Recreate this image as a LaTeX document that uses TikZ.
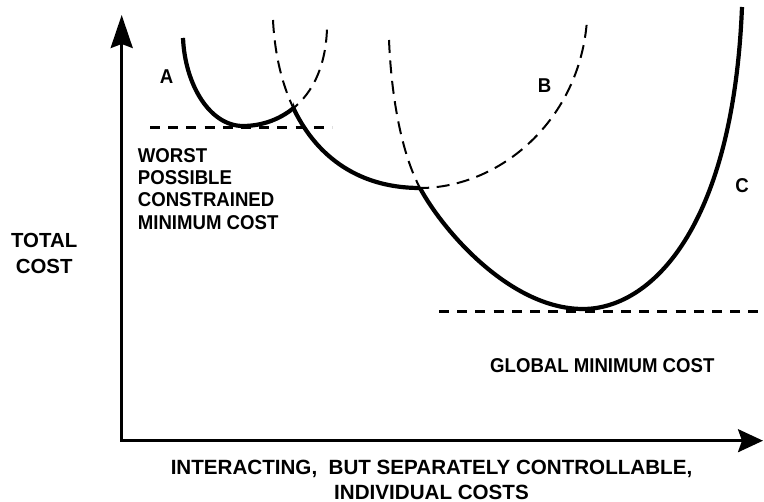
\documentclass[tikz,border=0pt]{standalone}
\usepackage{fontspec}
\setmainfont{Liberation Sans}
\newfontfamily\lblfont[FakeStretch=0.93]{Liberation Sans}
\usetikzlibrary{arrows.meta}
\begin{document}
\begin{tikzpicture}[x=1pt,y=-1pt,
  axisline/.style={line width=2.8pt},
  costcurve/.style={line width=4.2pt},
  altcurve/.style={line width=2pt, dash pattern=on 13pt off 7.5pt},
  levelline/.style={line width=3pt, dash pattern=on 10pt off 8.2pt},
  lbl/.style={inner sep=0pt, font=\lblfont\bfseries\fontsize{20}{22.2}\selectfont},
  axlbl/.style={inner sep=0pt, align=center, font=\bfseries\fontsize{20.5}{25}\selectfont}]
\useasboundingbox (0,0) rectangle (764,502);
% axes
\coordinate (O) at (121.7,440.7);
\coordinate (ytip) at (121.7,15);
\coordinate (xtip) at (763,440.7);
\draw[axisline, {Stealth[length=33pt,width=22pt,inset=4pt]}-{Stealth[length=25pt,width=23pt,inset=4pt]}]
  (ytip) -- (O) -- (xtip);
% curve A
\coordinate (A0) at (183,38);
\coordinate (Amin) at (243,126);
\coordinate (A1) at (327,28);
\draw[altcurve] (A0) .. controls (185,85) and (210,126) .. (Amin)
  .. controls (280,126) and (325,100) .. (A1);
\begin{scope}
  \clip (0,0) rectangle (293,502);
  \draw[costcurve] (A0) .. controls (185,85) and (210,126) .. (Amin)
    .. controls (280,126) and (325,100) .. (A1);
\end{scope}
% curve B
\coordinate (B0) at (273,20);
\coordinate (X2) at (420,188);
\coordinate (B1) at (587,20);
\draw[altcurve] (B0) .. controls (278,120) and (330,188) .. (X2)
  .. controls (500,188) and (580,120) .. (B1);
\begin{scope}
  \clip (293,0) rectangle (764,502);
  \draw[costcurve] (B0) .. controls (278,120) and (330,188) .. (X2);
\end{scope}
% curve C
\coordinate (C0) at (389,40);
\coordinate (Cmin) at (583,309);
\coordinate (C1) at (742,7);
\draw[altcurve] (C0) .. controls (392,110) and (405,160) .. (X2);
\draw[costcurve] (X2) .. controls (442.5,230) and (510,309) .. (Cmin)
  .. controls (650,309) and (733,230) .. (C1);
% level lines
\coordinate (L1a) at (150,128);
\coordinate (L1b) at (332,128);
\coordinate (L2a) at (439,311.7);
\coordinate (L2b) at (764,311.7);
\draw[levelline] (L1a) -- (L1b);
\draw[levelline] (L2a) -- (L2b);
% labels
\node[lbl] (la) at (166.7,77) {A};
\node[lbl] (lb) at (544.5,85.5) {B};
\node[lbl] (lc) at (742,186) {C};
\node[lbl, align=left, anchor=north west] (worst) at (137.7,148.3)
  {WORST\\POSSIBLE\\CONSTRAINED\\MINIMUM COST};
\node[lbl, anchor=base west] (global) at (490,373) {GLOBAL MINIMUM COST};
\node[axlbl, anchor=north, font=\bfseries\fontsize{20.4}{25.7}\selectfont] (ylab) at (44.2,233.3) {TOTAL\\COST};
\node[axlbl, anchor=north, font=\bfseries\fontsize{20.6}{24.5}\selectfont] (xlab) at (431.5,460)
  {INTERACTING,~~BUT SEPARATELY CONTROLLABLE,\\INDIVIDUAL COSTS};
\end{tikzpicture}
\end{document}
